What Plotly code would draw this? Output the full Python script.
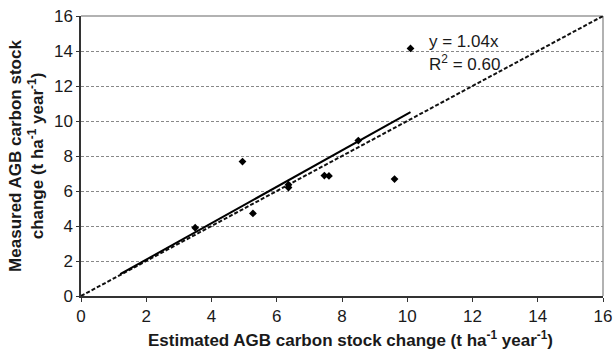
import plotly.graph_objects as go

# Observed plot values: estimated vs measured AGB carbon stock change
estimated = [3.5, 4.95, 5.27, 6.36, 6.36, 7.46, 7.6, 8.5, 9.61, 10.1]
measured = [3.9, 7.68, 4.72, 6.36, 6.2, 6.88, 6.86, 8.88, 6.68, 14.15]

slope = 1.04
r_squared = 0.60
fit_x = [1.2, 10.1]
one_to_one = [0, 16]

axis_ticks = [0, 2, 4, 6, 8, 10, 12, 14, 16]

fig = go.Figure()

fig.add_trace(go.Scatter(
    x=one_to_one, y=one_to_one, mode="lines",
    line=dict(color="#111111", width=2, dash="4px,2px"),
    showlegend=False, hoverinfo="skip"))

fig.add_trace(go.Scatter(
    x=fit_x, y=[slope * v for v in fit_x], mode="lines",
    line=dict(color="#000000", width=2),
    showlegend=False, hoverinfo="skip"))

fig.add_trace(go.Scatter(
    x=estimated, y=measured, mode="markers",
    marker=dict(symbol="diamond", size=6, color="#000000"),
    showlegend=False))

font_family = "Liberation Sans, Arial, sans-serif"
text_color = "#1a1a1a"

fig.update_layout(
    width=614, height=349,
    margin=dict(l=81, r=11, t=16, b=53),
    plot_bgcolor="white", paper_bgcolor="white",
    font=dict(family=font_family, color=text_color),
    xaxis=dict(
        range=[0, 16], tickvals=axis_ticks, showgrid=False, zeroline=False,
        automargin=False,
        showline=True, linecolor="#333333", linewidth=1.5,
        ticks="outside", ticklen=4, tickcolor="#333333",
        tickfont=dict(size=17, color=text_color),
    ),
    yaxis=dict(
        range=[0, 16], tickvals=axis_ticks, zeroline=False,
        automargin=False,
        showgrid=True, gridcolor="#888888", griddash="3px,2px", gridwidth=1,
        showline=True, linecolor="#333333", linewidth=1.5,
        ticks="outside", ticklen=3, tickcolor="#333333",
        tickfont=dict(size=17, color=text_color),
        title=dict(text="<b>Measured AGB carbon stock<br>change (t ha<sup>-1</sup> year<sup>-1</sup>)</b>",
                   font=dict(size=17, color=text_color), standoff=6),
    ),
    shapes=[
        dict(type="line", xref="paper", yref="paper", x0=0, x1=1, y0=1, y1=1,
             line=dict(color="#999999", width=1.5), layer="below"),
        dict(type="line", xref="paper", yref="paper", x0=1, x1=1, y0=0, y1=1,
             line=dict(color="#999999", width=1.5), layer="below"),
    ],
    annotations=[
        # x-axis title, set slightly right of the plot centre
        dict(x=0.517, y=-0.154, xref="paper", yref="paper",
             xanchor="center", yanchor="middle", showarrow=False,
             text="<b>Estimated AGB carbon stock change (t ha<sup>-1</sup> year<sup>-1</sup>)</b>",
             font=dict(size=17, color=text_color)),
        dict(x=10.6, y=14.57, xref="x", yref="y", xanchor="left", yanchor="middle",
             text=f"y = {slope:.2f}x", showarrow=False,
             font=dict(size=17, color=text_color)),
        dict(x=10.6, y=13.3, xref="x", yref="y", xanchor="left", yanchor="middle",
             text=f"R<sup>2</sup> = {r_squared:.2f}", showarrow=False,
             font=dict(size=17, color=text_color)),
    ],
)

fig.write_html("out.html")
